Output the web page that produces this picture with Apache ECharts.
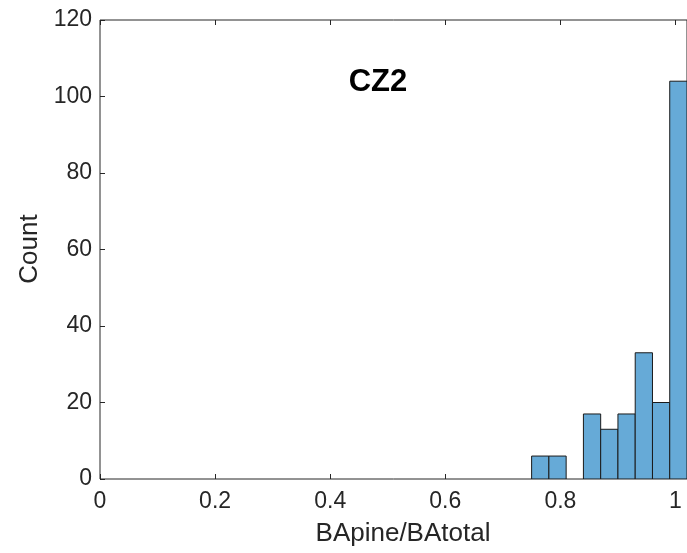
<!DOCTYPE html>
<html>
<head>
<meta charset="utf-8">
<script src="https://cdn.jsdelivr.net/npm/echarts@6/dist/echarts.min.js"></script>
<style>html,body{margin:0;padding:0;background:#fff;}#c{width:687px;height:553px;}</style>
</head>
<body>
<div id="c"></div>
<script>
// Histogram bins (left edges, right edges) and counts
var binStarts = [0.75, 0.78, 0.81, 0.84, 0.87, 0.90, 0.93, 0.96, 0.99];
var binEnds   = [0.78, 0.81, 0.84, 0.87, 0.90, 0.93, 0.96, 0.99, 1.02];
var counts    = [6, 6, 0, 17, 13, 17, 33, 20, 104];
var xTicks = [0, 0.2, 0.4, 0.6, 0.8, 1];
var yTicks = [0, 20, 40, 60, 80, 100, 120];
var titleText = 'CZ2';
var xLabel = 'BApine/BAtotal';
var yLabel = 'Count';

var data = binStarts.map(function (s, i) { return [s, binEnds[i], counts[i]]; });
var font = '"Liberation Sans", Arial, Helvetica, sans-serif';
var txt = '#262626';

var chart = echarts.init(document.getElementById('c'), null, {renderer: 'canvas'});
chart.setOption({
  animation: false,
  backgroundColor: '#fff',
  grid: {left: 100, top: 20, right: -2, bottom: 74, show: true, borderColor: '#262626', borderWidth: 1, backgroundColor: 'transparent'},
  xAxis: [{
    type: 'value', min: 0, max: 1.02, interval: 0.2,
    axisLine: {show: false},
    axisTick: {show: true, inside: true, length: 5, lineStyle: {color: '#262626'}, customValues: xTicks},
    axisLabel: {color: txt, fontSize: 23, fontFamily: font, margin: 11, customValues: xTicks,
      formatter: function (v) { return String(Math.round(v * 10) / 10); }},
    splitLine: {show: false}
  }, {
    type: 'value', position: 'top', min: 0, max: 1.02, interval: 0.2,
    axisLine: {show: false},
    axisTick: {show: true, inside: true, length: 5, lineStyle: {color: '#262626'}, customValues: xTicks},
    axisLabel: {show: false},
    splitLine: {show: false}
  }],
  yAxis: {
    type: 'value', min: 0, max: 120, interval: 20,
    axisLine: {show: false},
    axisTick: {show: true, inside: true, length: 5, lineStyle: {color: '#262626'}},
    axisLabel: {color: txt, fontSize: 23, fontFamily: font, margin: 8},
    splitLine: {show: false}
  },
  series: [{
    type: 'custom',
    xAxisIndex: 0,
    clip: true,
    data: data,
    encode: {x: [0, 1], y: 2},
    renderItem: function (params, api) {
      var p0 = api.coord([api.value(0), api.value(2)]);
      var p1 = api.coord([api.value(1), 0]);
      if (api.value(2) === 0) return null;
      return {
        type: 'rect',
        shape: {x: p0[0], y: p0[1], width: p1[0] - p0[0], height: p1[1] - p0[1]},
        style: {fill: '#66aad7', stroke: '#1a1a1a', lineWidth: 1}
      };
    }
  }],
  graphic: [
    {type: 'text', x: 378, y: 82, style: {text: titleText, font: 'bold 31px ' + font, fill: '#000', align: 'center', verticalAlign: 'middle'}},
    {type: 'text', x: 403, y: 534, style: {text: xLabel, font: '26px ' + font, fill: txt, align: 'center', verticalAlign: 'middle'}},
    {type: 'text', x: 30, y: 249, rotation: Math.PI / 2, style: {text: yLabel, font: '26px ' + font, fill: txt, align: 'center', verticalAlign: 'middle'}}
  ]
});
</script>
</body>
</html>
